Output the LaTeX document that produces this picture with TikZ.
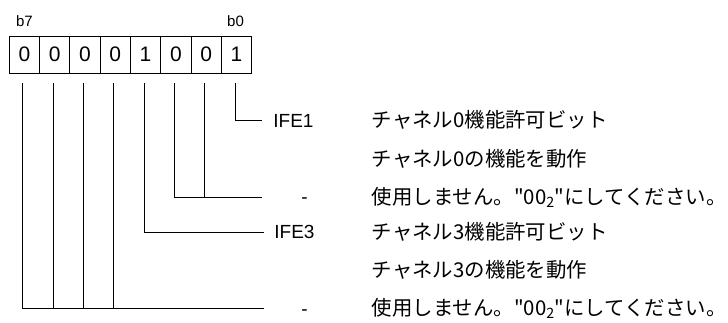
\documentclass[tikz,border=0pt]{standalone}
\usepackage{fontspec}
\setmainfont{Liberation Sans}
\newfontfamily\jp{Noto Sans CJK JP}
\usetikzlibrary{positioning}

\begin{document}
\begin{tikzpicture}[x=1pt,y=-1pt,line width=0.8pt]
        \tikzstyle{every node}=[font=\fontsize{19}{22}\selectfont]
        \tikzstyle{bitcell}=[draw, minimum width=30.3pt, minimum height=37pt, inner sep=0pt, outer sep=0pt, font=\fontsize{21}{24}\selectfont]
        \tikzstyle{bitname}=[font=\fontsize{15}{18}\selectfont, inner sep=0pt]
        \tikzstyle{fieldname}=[anchor=west, inner ysep=0pt, inner xsep=11pt, text height=13.6pt, text depth=0pt]
        \tikzstyle{fielddesc}=[anchor=west, inner sep=0pt, text height=17pt, text depth=3pt, font=\jp\fontsize{20.4}{24}\selectfont]
        \useasboundingbox (0,0) rectangle (728,322);
        \node [bitcell] (b7) at (24.35,54.5) {0};
        \node [bitcell, right=0pt of b7] (b6) {0};
        \node [bitcell, right=0pt of b6] (b5) {0};
        \node [bitcell, right=0pt of b5] (b4) {0};
        \node [bitcell, right=0pt of b4] (b3) {1};
        \node [bitcell, right=0pt of b3] (b2) {0};
        \node [bitcell, right=0pt of b2] (b1) {0};
        \node [bitcell, right=0pt of b1] (b0) {1};
        \node [bitname] (n7) at (24.5,21) {b7};
        \node [bitname] (n0) at (235.5,21) {b0};
        \node [fieldname] (ife1) at (262,120.5) {IFE1};
        \node [fieldname, inner xsep=39pt] (rsv1) at (262,197) {-};
        \node [fieldname, inner xsep=10pt] (ife3) at (264,232) {IFE3};
        \node [fieldname, inner xsep=37pt] (rsv2) at (264,308.5) {-};
        \node [fielddesc] (d1) at (371.5,120.5) {チャネル0機能許可ビット};
        \node [fielddesc] (d2) at (371.5,159) {チャネル0の機能を動作};
        \node [fielddesc] (d3) at (371.5,197) {使用しません。"00\textsubscript{2}"にしてください。};
        \node [fielddesc] (d4) at (371.5,232) {チャネル3機能許可ビット};
        \node [fielddesc] (d5) at (371.5,270) {チャネル3の機能を動作};
        \node [fielddesc] (d6) at (371.5,308.5) {使用しません。"00\textsubscript{2}"にしてください。};
        \draw ([xshift=-1.5pt,yshift=-10pt]b0.south) |- (ife1.west);
        \draw ([xshift=-1.5pt,yshift=-10pt]b2.south) |- (rsv1.west);
        \draw ([xshift=-1.5pt,yshift=-10pt]b1.south) |- (rsv1.west);
        \draw ([xshift=-1.5pt,yshift=-10pt]b3.south) |- (ife3.west);
        \draw ([xshift=-1.5pt,yshift=-10pt]b7.south) |- (rsv2.west);
        \draw ([xshift=-1.5pt,yshift=-10pt]b6.south) |- (rsv2.west);
        \draw ([xshift=-1.5pt,yshift=-10pt]b5.south) |- (rsv2.west);
        \draw ([xshift=-1.5pt,yshift=-10pt]b4.south) |- (rsv2.west);
\end{tikzpicture}
\end{document}
